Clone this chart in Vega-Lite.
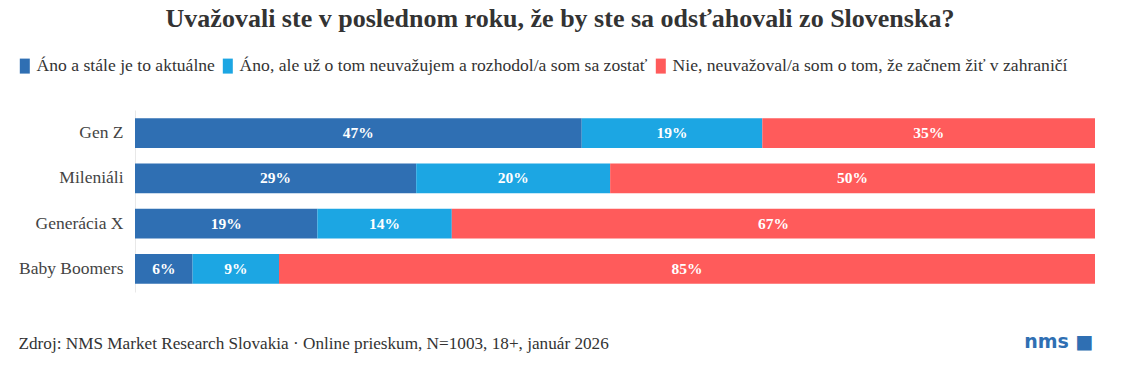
{
  "$schema": "https://vega.github.io/schema/vega-lite/v6.json",
  "width": 960,
  "height": 182,
  "autosize": {"type": "none"},
  "padding": {"left": 135, "top": 110, "right": 26, "bottom": 73},
  "background": "white",
  "title": {
    "text": "Uvažovali ste v poslednom roku, že by ste sa odsťahovali zo Slovenska?",
    "font": "Liberation Serif",
    "fontSize": 26,
    "fontWeight": "bold",
    "color": "#333333",
    "anchor": "middle",
    "frame": "group",
    "dx": -55,
    "offset": 25
  },
  "config": {
    "view": {"stroke": null},
    "legend": {
      "orient": "none",
      "legendX": -119,
      "legendY": -53,
      "direction": "horizontal",
      "labelFont": "Liberation Serif",
      "labelFontSize": 17.6,
      "labelColor": "#333333",
      "labelLimit": 0,
      "labelOffset": 3,
      "columnPadding": 4,
      "symbolType": "M-1,-1.5 L1,-1.5 L1,1.5 L-1,1.5 Z",
      "symbolSize": 100,
      "symbolStrokeWidth": 0,
      "symbolOpacity": 1,
      "title": null
    }
  },
  "data": {
    "values": [
      {"gen": "Gen Z", "cat": "Áno a stále je to aktuálne", "order": 1, "v": 47},
      {"gen": "Gen Z", "cat": "Áno, ale už o tom neuvažujem a rozhodol/a som sa zostať", "order": 2, "v": 19},
      {"gen": "Gen Z", "cat": "Nie, neuvažoval/a som o tom, že začnem žiť v zahraničí", "order": 3, "v": 35},
      {"gen": "Mileniáli", "cat": "Áno a stále je to aktuálne", "order": 1, "v": 29},
      {"gen": "Mileniáli", "cat": "Áno, ale už o tom neuvažujem a rozhodol/a som sa zostať", "order": 2, "v": 20},
      {"gen": "Mileniáli", "cat": "Nie, neuvažoval/a som o tom, že začnem žiť v zahraničí", "order": 3, "v": 50},
      {"gen": "Generácia X", "cat": "Áno a stále je to aktuálne", "order": 1, "v": 19},
      {"gen": "Generácia X", "cat": "Áno, ale už o tom neuvažujem a rozhodol/a som sa zostať", "order": 2, "v": 14},
      {"gen": "Generácia X", "cat": "Nie, neuvažoval/a som o tom, že začnem žiť v zahraničí", "order": 3, "v": 67},
      {"gen": "Baby Boomers", "cat": "Áno a stále je to aktuálne", "order": 1, "v": 6},
      {"gen": "Baby Boomers", "cat": "Áno, ale už o tom neuvažujem a rozhodol/a som sa zostať", "order": 2, "v": 9},
      {"gen": "Baby Boomers", "cat": "Nie, neuvažoval/a som o tom, že začnem žiť v zahraničí", "order": 3, "v": 85}
    ]
  },
  "transform": [
    {"stack": "v", "groupby": ["gen"], "sort": [{"field": "order"}], "as": ["x0", "x1"], "offset": "normalize"},
    {"calculate": "(datum.x0 + datum.x1) / 2", "as": "xm"},
    {"calculate": "datum.v + '%'", "as": "lab"}
  ],
  "layer": [
    {
      "mark": {"type": "bar"},
      "encoding": {
        "y": {
          "field": "gen",
          "type": "nominal",
          "sort": ["Gen Z", "Mileniáli", "Generácia X", "Baby Boomers"],
          "scale": {"paddingInner": 0.34, "paddingOuter": 0.18},
          "axis": {
            "title": null,
            "ticks": false,
            "domain": true,
            "domainColor": "#e8e8e8",
            "labelPadding": 12,
            "labelFont": "Liberation Serif",
            "labelFontSize": 17.5,
            "labelColor": "#444444"
          }
        },
        "x": {
          "field": "x0",
          "type": "quantitative",
          "scale": {"domain": [0, 1]},
          "title": "Zdroj: NMS Market Research Slovakia · Online prieskum, N=1003, 18+, január 2026",
          "axis": {
            "labels": false,
            "ticks": false,
            "domain": false,
            "grid": false,
            "titleFont": "Liberation Serif",
            "titleFontSize": 17.2,
            "titleFontWeight": "normal",
            "titleColor": "#333333",
            "titleAnchor": "start",
            "titleAlign": "left",
            "titleBaseline": "middle",
            "titleX": -117,
            "titleY": 51
          }
        },
        "x2": {"field": "x1"},
        "color": {
          "field": "cat",
          "type": "nominal",
          "scale": {
            "domain": ["Áno a stále je to aktuálne", "Áno, ale už o tom neuvažujem a rozhodol/a som sa zostať", "Nie, neuvažoval/a som o tom, že začnem žiť v zahraničí"],
            "range": ["#2f6fb3", "#1ca6e3", "#ff5b5b"]
          },
          "legend": {}
        }
      }
    },
    {
      "mark": {"type": "text", "color": "white", "font": "Liberation Serif", "fontSize": 15.5, "fontWeight": "bold"},
      "encoding": {
        "y": {
          "field": "gen",
          "type": "nominal",
          "sort": ["Gen Z", "Mileniáli", "Generácia X", "Baby Boomers"],
          "axis": {
            "orient": "right",
            "labels": false,
            "ticks": false,
            "domain": false,
            "title": "nms ■",
            "titleAngle": 0,
            "titleColor": "#2f6fb3",
            "titleFont": "DejaVu Sans",
            "titleFontSize": 19,
            "titleFontWeight": "bold",
            "titleAlign": "right",
            "titleBaseline": "middle",
            "titleX": -2,
            "titleY": 231
          }
        },
        "x": {"field": "xm", "type": "quantitative"},
        "text": {"field": "lab"}
      }
    }
  ],
  "resolve": {"axis": {"y": "independent"}}
}
